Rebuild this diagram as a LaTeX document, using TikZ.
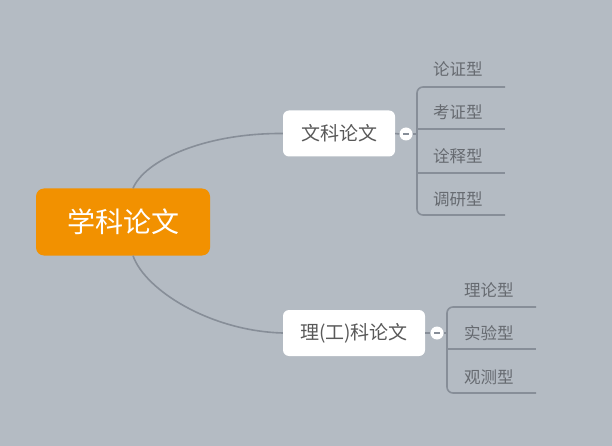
\documentclass[tikz,border=0pt]{standalone}
\usepackage{fontspec}
\setmainfont{Noto Sans CJK SC}
\usetikzlibrary{positioning}

\definecolor{bgcol}{HTML}{B4BBC3}
\definecolor{stemcol}{HTML}{878E98}
\definecolor{rootcol}{HTML}{F29100}
\definecolor{textcol}{HTML}{595959}
\definecolor{leafcol}{HTML}{666A70}

\begin{document}
\begin{tikzpicture}[x=1pt,y=-1pt,
  rootbox/.style={rectangle,rounded corners=8pt,fill=rootcol,text=white,minimum width=174pt,minimum height=67pt,font=\fontsize{28}{30}\selectfont},
  topicbox/.style={rectangle,rounded corners=6pt,fill=white,text=textcol,minimum height=46pt,font=\fontsize{19}{22}\selectfont},
  leaf/.style={anchor=west,text=leafcol,inner sep=0pt,font=\fontsize{16.5}{18}\selectfont},
  toggle/.style={circle,fill=white,minimum size=13pt,inner sep=0pt},
  stem/.style={draw=stemcol,line width=1.6pt},
  minus/.style={draw=stemcol,line width=1.4pt}]
  \fill[bgcol] (0,0) rectangle (612,446);
  \useasboundingbox (0,0) rectangle (612,446);

  % main topic and the two subtopics
  \node[rootbox] (root) at (123,222) {学科论文};
  \node[topicbox,minimum width=112pt] (wen) at (339,133.5) {文科论文};
  \node[topicbox,minimum width=142pt] (li) at (354,333) {理(工)科论文};

  \draw[stem] ([xshift=10]root.north) .. controls (145,160) and (205,133) .. (wen.west);
  \draw[stem] ([xshift=10]root.south) .. controls (145,290) and (210,331) .. (li.west);

  % collapse buttons
  \node[toggle] (c1) at (406,134) {};
  \node[toggle] (c2) at (437,333) {};
  \draw[stem] (wen.east) -- (c1.west);
  \draw[stem] (li.east) -- (c2.west);
  \draw[minus] ([xshift=-3]c1.center) -- ([xshift=3]c1.center);
  \draw[minus] ([xshift=-3]c2.center) -- ([xshift=3]c2.center);

  % leaves of 文科论文
  \coordinate (j1) at (417,134);
  \draw[stem] (c1.east) -- (j1);
  \node[leaf] (a1) at (433,69) {论证型};
  \node[leaf] (a2) at (433,112) {考证型};
  \node[leaf] (a3) at (433,156) {诠释型};
  \node[leaf] (a4) at (433,199) {调研型};
  \draw[stem,rounded corners=6pt] (505,87) -- (417,87) -- (417,215) -- (505,215);
  \draw[stem] (417,129) -- (505,129);
  \draw[stem] (417,173) -- (505,173);

  % leaves of 理(工)科论文
  \coordinate (j2) at (447,333);
  \draw[stem] (c2.east) -- (j2);
  \node[leaf] (b1) at (464,290) {理论型};
  \node[leaf] (b2) at (464,333) {实验型};
  \node[leaf] (b3) at (464,377) {观测型};
  \draw[stem,rounded corners=6pt] (536,307) -- (447,307) -- (447,393) -- (536,393);
  \draw[stem] (447,349) -- (536,349);
\end{tikzpicture}
\end{document}
